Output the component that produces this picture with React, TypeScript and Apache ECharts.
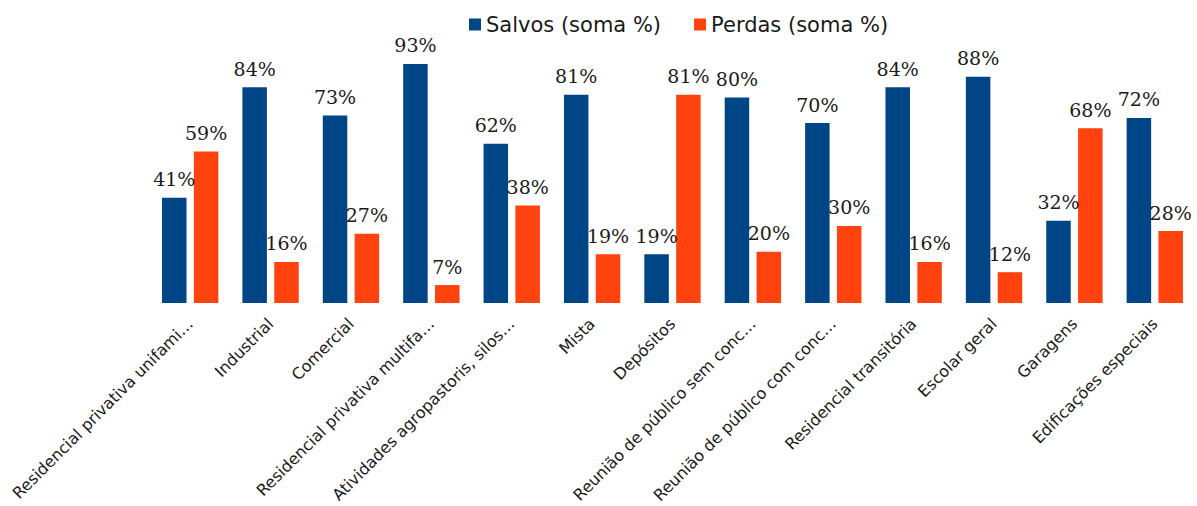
import React, { useEffect, useRef } from "react";
import * as echarts from "echarts";

const categories = [
  "Residencial privativa unifami…",
  "Industrial",
  "Comercial",
  "Residencial privativa multifa…",
  "Atividades agropastoris, silos…",
  "Mista",
  "Depósitos",
  "Reunião de público sem conc…",
  "Reunião de público com conc…",
  "Residencial transitória",
  "Escolar geral",
  "Garagens",
  "Edificações especiais",
];
const salvos = [41, 84, 73, 93, 62, 81, 19, 80, 70, 84, 88, 32, 72];
const perdas = [59, 16, 27, 7, 38, 19, 81, 20, 30, 16, 12, 68, 28];

export default function App() {
  const ref = useRef<HTMLDivElement>(null);
  useEffect(() => {
    if (!ref.current) return;
    const chart = echarts.init(ref.current, null, { renderer: "svg" });
    const label = {
      show: true,
      position: "top",
      distance: 9,
      formatter: "{c}%",
      fontFamily: "DejaVu Serif",
      fontSize: 19,
      color: "#1a1a1a",
    };
    chart.setOption({
      animation: false,
      backgroundColor: "#ffffff",
      legend: {
        left: 464,
        top: 9,
        itemWidth: 12,
        itemHeight: 12,
        itemGap: 33,
        icon: "rect",
        textStyle: { fontFamily: "DejaVu Sans", fontSize: 21, color: "#1a1a1a" },
        data: ["Salvos (soma %)", "Perdas (soma %)"],
      },
      grid: { left: 150, right: 2, top: 46, bottom: 200, containLabel: false },
      xAxis: {
        type: "category",
        data: categories,
        axisLine: { show: false },
        axisTick: { show: false },
        axisLabel: {
          rotate: 45,
          interval: 0,
          margin: 18,
          fontFamily: "DejaVu Sans",
          fontSize: 16,
          color: "#1a1a1a",
        },
      },
      yAxis: {
        type: "value",
        min: 0,
        max: 100,
        show: false,
        splitLine: { show: false },
      },
      series: [
        {
          name: "Salvos (soma %)",
          type: "bar",
          data: salvos,
          barWidth: 24.5,
          barGap: "30%",
          itemStyle: { color: "#004586" },
          label,
        },
        {
          name: "Perdas (soma %)",
          type: "bar",
          data: perdas,
          barWidth: 24.5,
          barGap: "30%",
          itemStyle: { color: "#ff420e" },
          label,
        },
      ],
    });
    return () => chart.dispose();
  }, []);
  return (
    <div
      ref={ref}
      style={{ position: "absolute", left: 0, top: 0, width: 1197, height: 506 }}
    />
  );
}
